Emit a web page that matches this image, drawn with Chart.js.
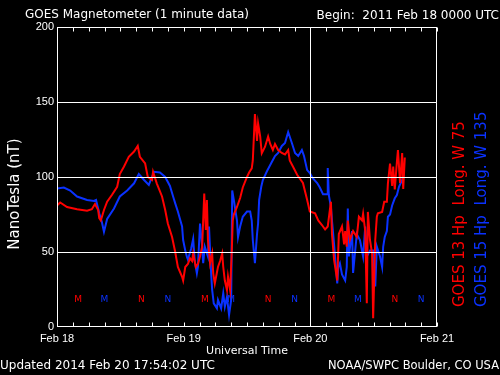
<!DOCTYPE html>
<html>
<head>
<meta charset="utf-8" />
<title>GOES Magnetometer</title>
<style>
    body { margin: 0; background: #000; }
    #contenedor { width: 500px; height: 375px; }
</style>
</head>
<body>
<div id="contenedor"><canvas id="canvasMag" width="500" height="375"></canvas></div>
<script src="https://cdn.jsdelivr.net/npm/chart.js@4.4.1/dist/chart.umd.min.js"></script>
<script>
    // hours since 2011 Feb 18 0000 UT, values in nT
    var redHours = [0.0, 0.6, 1.9, 3.8, 5.7, 6.6, 7.2, 7.8, 8.0, 8.3,
        8.9, 9.5, 10.4, 11.4, 11.9, 12.7, 13.6, 14.6, 15.3, 15.7,
        16.7, 17.2, 18.0, 18.2, 18.9, 19.9, 20.5, 21.0, 21.8, 22.4,
        22.9, 23.7, 23.9, 24.3, 24.8, 25.2, 25.6, 25.8, 26.3, 26.7,
        27.1, 27.5, 27.9, 28.2, 28.4, 28.6, 29.0, 29.4, 29.6, 29.9,
        30.5, 30.9, 31.3, 31.5, 31.8, 32.2, 32.4, 32.8, 33.1, 33.3,
        33.5, 34.1, 34.7, 35.2, 36.0, 36.4, 36.9, 37.1, 37.5, 37.9,
        38.1, 38.5, 38.8, 39.4, 40.0, 40.4, 40.9, 41.3, 41.9, 42.6,
        43.2, 43.8, 44.1, 44.7, 45.5, 46.0, 46.6, 47.4, 47.9, 48.9,
        49.5, 50.2, 50.8, 51.3, 51.9, 52.1, 52.5, 53.1, 53.4, 54.0,
        54.4, 54.6, 54.9, 55.1, 55.5, 56.1, 56.8, 57.2, 57.8, 58.0,
        58.4, 58.7, 58.9, 59.3, 59.7, 59.9, 60.3, 60.6, 60.8, 61.6,
        62.0, 62.5, 62.7, 63.1, 63.5, 63.7, 64.0, 64.4, 64.6, 65.0,
        65.4, 65.6, 65.9];
    var redValues = [81, 83, 80, 78.5, 77.5, 78.5, 82, 78, 72.6, 71,
        78, 83.5, 88, 93.5, 102, 107, 113.5, 117, 120.7, 113.5,
        109, 100, 98, 103.5, 95.8, 87, 78, 69, 60, 50,
        40, 33.5, 31, 40, 42, 45.8, 44, 49, 40, 42,
        47, 53.5, 89, 64.7, 84.7, 58, 42.5, 49, 35.8, 29,
        40, 44, 49, 40, 31, 24.7, 33.5, 24.7, 49, 71,
        75, 80, 86, 93, 100, 103, 105.8, 111, 142, 124,
        135.8, 127, 115.8, 120, 127, 122, 118, 122, 118, 116,
        115, 118, 111, 107, 101.5, 99, 96, 84.7, 77, 75.8,
        71, 68, 65, 67, 83.5, 62, 44.7, 31, 62, 67,
        55, 64, 53.5, 71, 58, 64, 60, 73.5, 71, 75.5,
        64, 15.8, 76.7, 58, 49, 5.8, 58, 73.5, 75.8, 76.7,
        83.5, 83.5, 95.8, 109, 94, 107, 91.7, 110, 118, 96,
        116, 92, 113];

    var blueHours = [0.0, 1.3, 2.5, 3.8, 5.7, 7.0, 7.4, 8.0, 8.5, 8.9,
        9.5, 10.8, 11.9, 13.3, 14.6, 15.5, 16.5, 17.4, 18.4, 19.5,
        20.5, 21.4, 22.0, 22.4, 22.9, 23.7, 23.9, 24.3, 24.6, 24.8,
        25.4, 25.8, 26.1, 26.5, 26.7, 27.1, 27.5, 27.7, 28.0, 28.6,
        28.8, 29.2, 29.4, 29.7, 30.3, 30.5, 31.1, 31.5, 31.8, 32.2,
        32.6, 33.0, 33.2, 33.5, 34.1, 34.3, 34.7, 35.2, 36.0, 36.6,
        36.9, 37.1, 37.5, 37.9, 38.1, 38.3, 38.7, 39.0, 39.8, 40.7,
        41.3, 41.9, 42.6, 43.2, 43.8, 44.5, 45.1, 45.7, 46.4, 46.8,
        47.4, 47.9, 48.5, 49.3, 49.8, 50.4, 51.2, 51.3, 51.5, 51.9,
        52.1, 52.5, 53.1, 53.3, 53.6, 54.0, 54.6, 54.9, 55.1, 55.3,
        55.9, 56.1, 56.8, 57.4, 58.0, 58.4, 58.7, 59.3, 59.9, 60.3,
        60.6, 61.2, 61.6, 61.8, 62.1, 62.5, 62.7, 63.1, 63.5, 64.0,
        64.4, 64.8, 65.4, 65.7];
    var blueValues = [92.4, 93, 91, 87, 84.7, 84, 84.7, 75.8, 70, 63.5,
        72, 79, 87, 91, 95.8, 102, 98, 94.7, 103.5, 103,
        100, 94, 87, 82.4, 77, 67, 58, 51, 47, 45,
        52, 58.7, 44, 35.8, 40, 69, 53.5, 42.5, 53.5, 47,
        67, 35.8, 24.7, 15.8, 12.4, 18, 12.4, 22.5, 13.5, 20,
        8, 18, 91, 84.7, 71, 60, 67, 73.5, 77, 77,
        71, 58, 42.5, 62, 69, 84.7, 93.5, 98, 104, 110,
        114, 116, 120.7, 122.7, 130, 122.7, 116, 114, 118, 114,
        104.6, 102.7, 99, 96, 93, 88.5, 88.5, 106, 88, 80,
        71, 55, 29, 40, 42.5, 35, 31, 40, 79, 47,
        64, 36, 62, 58, 47, 67, 47, 51, 51, 27,
        53.5, 47, 40, 53.5, 60, 64, 73.5, 75, 81, 85.8,
        88, 93.5, 98, 102.7];

    var dayTicks = [0, 24, 48, 72];
    var dayLabels = ["Feb 18", "Feb 19", "Feb 20", "Feb 21"];
    var redMidnight = [4, 28, 52];
    var redNoon = [16, 40, 64];
    var blueMidnight = [9, 33, 57];
    var blueNoon = [21, 45, 69];

    var RED = '#ff0000';
    var BLUE = '#0a32ff';

    function pares(horas, valores) {
        var out = [];
        var n = Math.min(horas.length, valores.length);
        for (var i = 0; i < n; i++) {
            out.push({x: horas[i], y: valores[i]});
        }
        return out;
    }

    var marcoPlugin = {
        id: 'marco',
        beforeDatasetsDraw: function(chart) {
            var c = chart.ctx, x = chart.scales.x, y = chart.scales.y;
            c.save();
            c.font = '9px "DejaVu Sans"';
            c.textAlign = 'center';
            c.textBaseline = 'middle';
            var py = y.getPixelForValue(18);
            function letras(horas, txt, color) {
                c.fillStyle = color;
                horas.forEach(function(h) { c.fillText(txt, x.getPixelForValue(h), py); });
            }
            letras(redMidnight, 'M', RED);
            letras(redNoon, 'N', RED);
            letras(blueMidnight, 'M', BLUE);
            letras(blueNoon, 'N', BLUE);
            c.restore();
        },
        afterDraw: function(chart) {
            var c = chart.ctx, a = chart.chartArea, x = chart.scales.x;
            c.save();
            c.strokeStyle = '#fff';
            c.lineWidth = 1;
            var l = Math.round(a.left) + 0.5, r = Math.round(a.right) - 0.5;
            var t = Math.round(a.top) + 0.5, b = Math.round(a.bottom) - 0.5;
            c.strokeRect(l, t, r - l, b - t);
            // 3 hour ticks pointing inward, top and bottom
            c.beginPath();
            x.ticks.forEach(function(tk) {
                var px = Math.round(x.getPixelForValue(tk.value)) + 0.5;
                c.moveTo(px, b); c.lineTo(px, b - 4);
                c.moveTo(px, t); c.lineTo(px, t + 4);
            });
            c.stroke();

            c.fillStyle = '#fff';
            c.textBaseline = 'middle';
            c.font = '12px "DejaVu Sans"';
            c.textAlign = 'left';
            c.fillText('GOES Magnetometer (1 minute data)', 25, 15);
            c.textAlign = 'right';
            c.fillText('Begin:  2011 Feb 18 0000 UTC', 499, 16);
            c.textAlign = 'left';
            c.fillText('Updated 2014 Feb 20 17:54:02 UTC', 0, 366);
            c.textAlign = 'right';
            c.font = '11.5px "DejaVu Sans"';
            c.fillText('NOAA/SWPC Boulder, CO USA', 499, 366);
            c.textAlign = 'center';
            c.font = '11px "DejaVu Sans"';
            c.fillText('Universal Time', 247, 351);

            c.font = '15px "DejaVu Sans"';
            c.translate(15, 194);
            c.rotate(-Math.PI / 2);
            c.textAlign = 'center';
            c.fillText('NanoTesla (nT)', 0, 0);
            c.restore();

            c.save();
            c.font = '15px "DejaVu Sans"';
            c.textBaseline = 'middle';
            c.textAlign = 'left';
            c.translate(460, 307);
            c.rotate(-Math.PI / 2);
            c.fillStyle = RED;
            c.fillText('GOES 13 Hp  Long. W 75', 0, 0);
            c.fillStyle = BLUE;
            c.fillText('GOES 15 Hp  Long. W 135', 0, 22);
            c.restore();
        }
    };

    var config = {
        type: 'line',
        data: {
            datasets: [{
                label: 'GOES 13 Hp',
                data: pares(redHours, redValues),
                borderColor: RED,
                borderWidth: 2,
                pointRadius: 0,
                tension: 0,
                fill: false
            }, {
                label: 'GOES 15 Hp',
                data: pares(blueHours, blueValues),
                borderColor: BLUE,
                borderWidth: 2,
                pointRadius: 0,
                tension: 0,
                fill: false
            }]
        },
        options: {
            responsive: false,
            animation: false,
            layout: { padding: { top: 27, right: 63, left: 0, bottom: 0 } },
            plugins: { legend: { display: false }, tooltip: { enabled: false } },
            scales: {
                x: {
                    type: 'linear',
                    min: 0,
                    max: 72,
                    afterFit: function(s) { s.height = 48; },
                    border: { display: false },
                    grid: {
                        z: 1,
                        drawTicks: false,
                        color: function(ctx) { return ctx.tick && ctx.tick.value === 48 ? '#fff' : 'rgba(0,0,0,0)'; }
                    },
                    ticks: {
                        stepSize: 3,
                        autoSkip: false,
                        maxRotation: 0,
                        padding: 5,
                        color: '#fff',
                        font: { family: 'Liberation Sans', size: 11 },
                        callback: function(v) {
                            var i = dayTicks.indexOf(v);
                            return i >= 0 ? dayLabels[i] : '';
                        }
                    }
                },
                y: {
                    min: 0,
                    max: 200,
                    afterFit: function(s) { s.width = 57; },
                    border: { display: false },
                    grid: {
                        z: 1,
                        drawTicks: false,
                        color: function(ctx) {
                            var v = ctx.tick ? ctx.tick.value : 0;
                            return (v > 0 && v < 200) ? '#fff' : 'rgba(0,0,0,0)';
                        }
                    },
                    ticks: {
                        stepSize: 50,
                        padding: 3,
                        color: '#fff',
                        font: { family: 'Liberation Sans', size: 11 }
                    }
                }
            }
        },
        plugins: [marcoPlugin]
    };

    var ctx = document.getElementById('canvasMag').getContext('2d');
    var grafico = new Chart(ctx, config);
</script>
</body>
</html>
